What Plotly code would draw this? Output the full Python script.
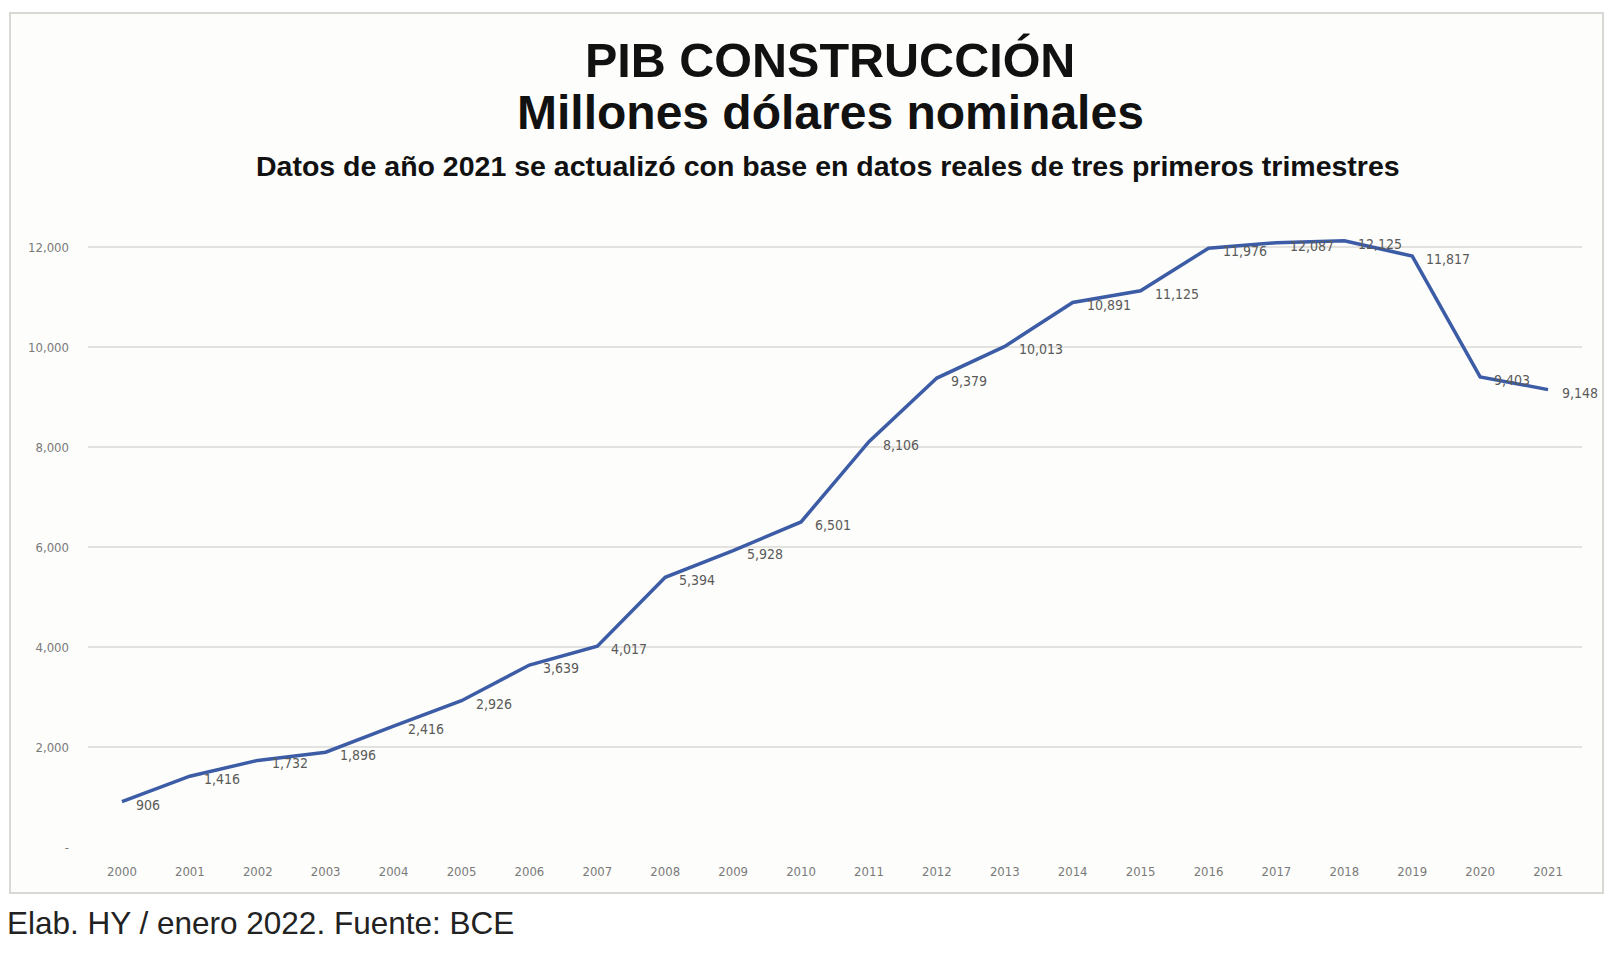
import plotly.graph_objects as go

years = [str(y) for y in range(2000, 2022)]
values = [906, 1416, 1732, 1896, 2416, 2926, 3639, 4017, 5394, 5928, 6501,
          8106, 9379, 10013, 10891, 11125, 11976, 12087, 12125, 11817, 9403, 9148]
y_tick_vals = [0, 2000, 4000, 6000, 8000, 10000, 12000]
y_tick_text = ["-", "2,000", "4,000", "6,000", "8,000", "10,000", "12,000"]

title_1 = "PIB CONSTRUCCIÓN"
title_2 = "Millones dólares nominales"
subtitle = "Datos de año 2021 se actualizó con base en datos reales de tres primeros trimestres"
footer = "Elab. HY / enero 2022. Fuente: BCE"

# page has an 8px body margin; figure coordinates = screen coordinates - 8
O = 8
W, H = 1618 - 2 * O, 958 - 2 * O
ML, MR, MT, MB = 88 - O, W - (1582 - O), 217 - O, H - (847 - O)
PW = W - ML - MR
PH = H - MT - MB

def px(x):
    return (x - O - ML) / PW

def py(y):
    return (H - MB - (y - O)) / PH

fig = go.Figure()
fig.add_trace(go.Scatter(
    x=years, y=values, mode="lines",
    line=dict(color="#3C5CA6", width=3.5),
    hoverinfo="skip", showlegend=False,
))

label_font = dict(family="Liberation Sans Narrow, Arial Narrow, DejaVu Sans Condensed, sans-serif",
                  size=14, color="#5a5a5a")
annotations = []
for i, v in enumerate(values):
    annotations.append(dict(
        x=i, y=v, xref="x", yref="y", text=f"{v:,}", showarrow=False,
        xanchor="left", yanchor="middle", xshift=12, yshift=-3, font=label_font,
    ))

title_font = "Liberation Sans, Arial, Helvetica, sans-serif"
annotations += [
    dict(x=px(830), y=py(60), xref="paper", yref="paper", text=f"<b>{title_1}</b>",
         showarrow=False, xanchor="center", yanchor="middle",
         font=dict(family=title_font, size=48.5, color="#111111")),
    dict(x=px(830), y=py(113), xref="paper", yref="paper", text=f"<b>{title_2}</b>",
         showarrow=False, xanchor="center", yanchor="middle",
         font=dict(family=title_font, size=48, color="#111111")),
    dict(x=px(828), y=py(166), xref="paper", yref="paper", text=f"<b>{subtitle}</b>",
         showarrow=False, xanchor="center", yanchor="middle",
         font=dict(family=title_font, size=28.5, color="#111111")),
    dict(x=px(5), y=py(923), xref="paper", yref="paper", text=footer,
         showarrow=False, xanchor="left", yanchor="middle",
         font=dict(family=title_font, size=31.5, color="#222222")),
]

fig.update_layout(
    width=W, height=H,
    margin=dict(l=ML, r=MR, t=MT, b=MB, autoexpand=False),
    paper_bgcolor="white", plot_bgcolor="rgba(0,0,0,0)",
    annotations=annotations,
    shapes=[dict(type="rect", xref="paper", yref="paper",
                 x0=px(10), x1=px(1603), y0=py(893), y1=py(13),
                 line=dict(color="#d8d8d4", width=2), fillcolor="#fdfdfb", layer="below")],
)
tick_font = dict(family="Liberation Sans Narrow, Arial Narrow, DejaVu Sans Condensed, sans-serif",
                 size=13, color="#7a7a7a")
fig.update_xaxes(type="category", range=[-0.5, len(years) - 0.5], showgrid=False,
                 showline=False, zeroline=False, ticks="", tickfont=tick_font,
                 ticklabelstandoff=15, fixedrange=True)
fig.update_yaxes(range=[0, 12600], tickvals=y_tick_vals, ticktext=y_tick_text,
                 showgrid=True, gridcolor="#e4e2df", gridwidth=1.5, zeroline=False,
                 showline=False, ticks="", tickfont=tick_font, ticklabelstandoff=18,
                 fixedrange=True)

fig.write_html("out.html")
